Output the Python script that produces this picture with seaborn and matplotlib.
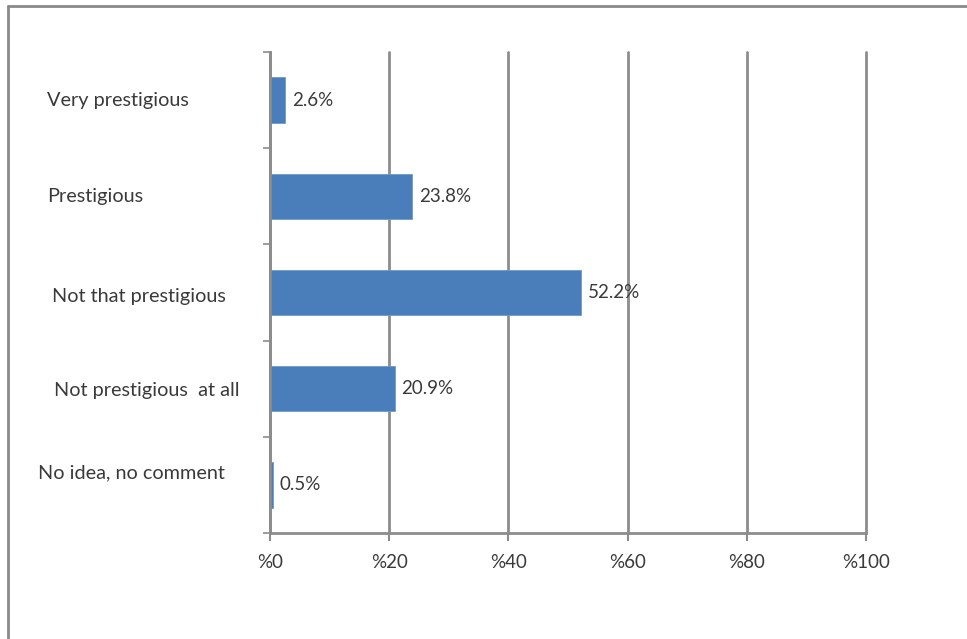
import matplotlib
matplotlib.use("Agg")
import matplotlib.pyplot as plt
import matplotlib.transforms as mtransforms
from matplotlib.lines import Line2D
import seaborn as sns
import pandas as pd

categories = ["Very prestigious", "Prestigious", "Not that prestigious",
              "Not prestigious  at all", "No idea, no comment"]
values = [2.6, 23.8, 52.2, 20.9, 0.5]
xticks = [0, 20, 40, 60, 80, 100]
xtick_labels = ["%0", "%20", "%40", "%60", "%80", "%100"]

sns.set_theme(style="white")
plt.rcParams["font.family"] = ["Lato", "DejaVu Sans"]

W, H = 967, 639
fig = plt.figure(figsize=(W / 100, H / 100), dpi=100)
fig.patch.set_facecolor("white")

left, right, top, bottom = 270, 866, 52, 533
ax = fig.add_axes([left / W, 1 - bottom / H, (right - left) / W, (bottom - top) / H])

df = pd.DataFrame({"category": categories, "value": values})
sns.barplot(data=df, x="value", y="category", orient="h", color="#4A7EBB",
            width=0.47, ax=ax, saturation=1)
for p in ax.patches:
    p.set_edgecolor("#6E9AD0")
    p.set_linewidth(0.6)

grid_c = "#8C8C8C"
text_c = "#3A3A3A"
ax.set_xlim(0, 100)
ax.set_ylim(len(categories) - 0.5, -0.5)
ax.set_xticks(xticks)
ax.set_xticklabels(xtick_labels, fontsize=13.5, color=text_c)
ax.xaxis.grid(True, color=grid_c, linewidth=2.0)
for gl in ax.get_xgridlines():
    gl.set_clip_on(False)
ax.set_axisbelow(True)
ax.set_xlabel("")
ax.set_ylabel("")

ax.set_yticks([i - 0.5 for i in range(len(categories) + 1)])
ax.set_yticklabels([])
ax.tick_params(axis="y", left=True, length=5, width=1.2, color=grid_c)
ax.tick_params(axis="x", bottom=True, length=6, width=1.5, color=grid_c, pad=9)

for s in ["top", "right"]:
    ax.spines[s].set_visible(False)
for s in ["left", "bottom"]:
    ax.spines[s].set_color(grid_c)
    ax.spines[s].set_linewidth(2.0)

ax.bar_label(ax.containers[0], labels=[f"{v:.1f}%" for v in values],
             padding=5, fontsize=13.5, color=text_c)

trans = mtransforms.blended_transform_factory(fig.transFigure, ax.transData)
label_dy = [0, 0, 0.04, 0.02, -0.13]
label_x = [47, 47, 52, 54, 38]
for i, c in enumerate(categories):
    ax.text(label_x[i] / W, i + label_dy[i], c, transform=trans, ha="left", va="center",
            fontsize=14.3, color=text_c)

# outer chart frame (top and left edges visible in reference)
fig.add_artist(Line2D([8 / W, 1], [1 - 6 / H, 1 - 6 / H], transform=fig.transFigure,
                      color="#8A8A8A", linewidth=2.0))
fig.add_artist(Line2D([8 / W, 8 / W], [0, 1 - 6 / H], transform=fig.transFigure,
                      color="#8A8A8A", linewidth=2.0))

fig.savefig("out.png", dpi=100, facecolor="white")
